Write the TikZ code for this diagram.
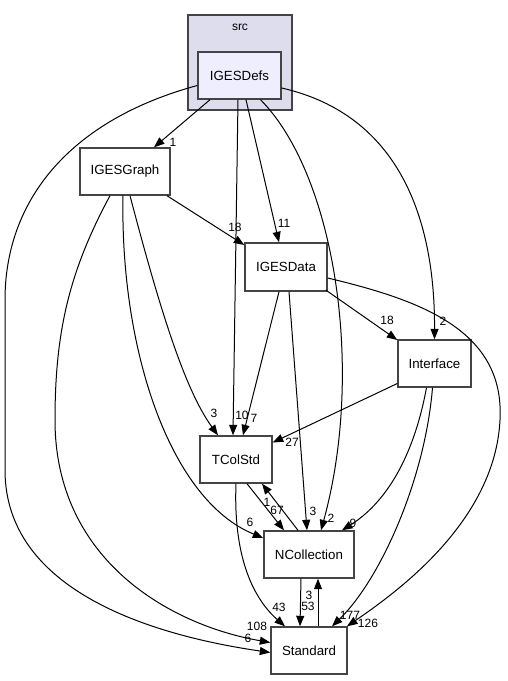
\documentclass[tikz,border=0pt]{standalone}
\usepackage{fontspec}
\setmainfont{Liberation Sans}
\usetikzlibrary{calc,arrows.meta}
\definecolor{boxgray}{HTML}{444444}
\definecolor{srcfill}{HTML}{DDDDEE}
\definecolor{deffill}{HTML}{EEEEFF}

\begin{document}
\begin{tikzpicture}[x=1pt,y=-1pt,
	dirbox/.style={draw=boxgray, line width=1.4pt, fill=white, minimum height=47pt, inner sep=0pt, font=\fontsize{13.3}{15}\selectfont},
	dep/.style={draw=black, line width=1pt, -{Triangle[length=10.5pt,width=8pt]}},
	lbl/.style={inner sep=0pt, font=\fontsize{12}{13}\selectfont}]
		\useasboundingbox (0,0) rectangle (508,681);
		\node[draw=boxgray, line width=1.4pt, fill=srcfill, minimum width=104pt, minimum height=95pt] (src) at (240,62.5) { };
		\node[font=\fontsize{12}{13}\selectfont] (srclabel) at (240,27) {src};
		\node[dirbox, fill=deffill, minimum width=83pt] (IGESDefs) at (239.5,75.5) {IGESDefs};
		\node[dirbox, minimum width=90pt] (IGESGraph) at (125,171.5) {IGESGraph};
		\node[dirbox, minimum width=82pt, minimum height=48pt] (IGESData) at (286,267) {IGESData};
		\node[dirbox, minimum width=73pt] (Interface) at (434.5,363.5) {Interface};
		\node[dirbox, minimum width=72pt] (TColStd) at (236,459.5) {TColStd};
		\node[dirbox, minimum width=90pt] (NCollection) at (309,554.5) {NCollection};
		\node[dirbox, minimum width=76pt] (Standard) at (309,650.5) {Standard};
		% IGESDefs
		\draw[dep] ($(IGESDefs.south)+(-29.5,0)$) -- ($(IGESGraph.north)+(29,0)$) node[lbl] (l1) at (173,142) {1};
		\draw[dep] ($(IGESDefs.south)+(-1.5,0)$) -- ($(TColStd.north)+(-3,0)$) node[lbl] (l2) at (242,415) {10};
		\draw[dep] ($(IGESDefs.south)+(6.5,0)$) -- ($(IGESData.north)+(-7,0)$) node[lbl] (l3) at (284,223) {11};
		\draw[dep] ($(IGESDefs.south)+(21,0)$) .. controls (335,175) and (365,370) .. ($(NCollection.north)+(12,0)$) node[lbl] (l4) at (331,518) {2};
		\draw[dep] ($(IGESDefs.east)+(0,12.5)$) .. controls (400,115) and (435,220) .. (Interface.north) node[lbl] (l5) at (443,321) {2};
		\draw[dep] ($(IGESDefs.west)+(0,10)$) .. controls (70,120) and (5,200) .. (5,300) -- (5,470) .. controls (5,590) and (150,635) .. ($(Standard.west)+(0,2)$) node[lbl] (l6) at (248,638) {6};
		% IGESGraph
		\draw[dep] ($(IGESGraph.south)+(42,0)$) -- ($(IGESData.west)+(0,-22)$) node[lbl] (l7) at (235,227) {18};
		\draw[dep] ($(IGESGraph.south)+(5,0)$) .. controls (160,310) and (185,390) .. ($(TColStd.north)+(-18,0)$) node[lbl] (l8) at (214,413) {3};
		\draw[dep] ($(IGESGraph.south)+(-2,0)$) .. controls (120,350) and (170,500) .. ($(NCollection.west)+(0,-16.5)$) node[lbl] (l9) at (250,522) {6};
		\draw[dep] ($(IGESGraph.south)+(-15,0)$) .. controls (70,270) and (55,330) .. (55,420) .. controls (55,560) and (170,625) .. ($(Standard.west)+(0,-8)$) node[lbl] (l10) at (257,626) {108};
		% IGESData
		\draw[dep] ($(IGESData.south)+(-7,0)$) -- ($(TColStd.north)+(7,0)$) node[lbl] (l11) at (254,418) {7};
		\draw[dep] ($(IGESData.south)+(3,0)$) -- ($(NCollection.north)+(-2,0)$) node[lbl] (l12) at (313,511) {3};
		\draw[dep] ($(IGESData.east)+(-2,23)$) -- ($(Interface.west)+(0,-23.5)$) node[lbl] (l13) at (387,320) {18};
		\draw[dep] ($(IGESData.east)+(0,11)$) .. controls (420,300) and (505,330) .. (500,420) .. controls (495,520) and (400,590) .. ($(Standard.north)+(38,0)$) node[lbl] (l14) at (368,623) {126};
		% Interface
		\draw[dep] ($(Interface.west)+(0,20)$) -- ($(TColStd.east)+(0,-17)$) node[lbl] (l15) at (292,442) {27};
		\draw[dep] ($(Interface.south)+(-8,0)$) .. controls (415,450) and (390,500) .. ($(NCollection.north)+(33,0)$) node[lbl] (l16) at (353,523) {9};
		\draw[dep] ($(Interface.south)+(-2,0)$) .. controls (425,480) and (380,580) .. ($(Standard.north)+(23,0)$) node[lbl] (l17) at (350,615) {177};
		% TColStd, NCollection, Standard
		\draw[dep] ($(TColStd.south)+(11,0)$) -- ($(NCollection.north)+(-25,0)$) node[lbl] (l18) at (277,510) {67};
		\draw[dep] ($(NCollection.north)+(-11,0)$) -- ($(TColStd.south)+(26,0)$) node[lbl] (l19) at (267,502) {1};
		\draw[dep] (TColStd.south) .. controls (233,560) and (255,600) .. ($(Standard.north)+(-24,0)$) node[lbl] (l20) at (279,607) {43};
		\draw[dep] ($(NCollection.south)+(-8,0)$) -- ($(Standard.north)+(-9,0)$) node[lbl] (l21) at (308,606) {53};
		\draw[dep] ($(Standard.north)+(9,0)$) -- ($(NCollection.south)+(9,0)$) node[lbl] (l22) at (309,595) {3};
\end{tikzpicture}
\end{document}
